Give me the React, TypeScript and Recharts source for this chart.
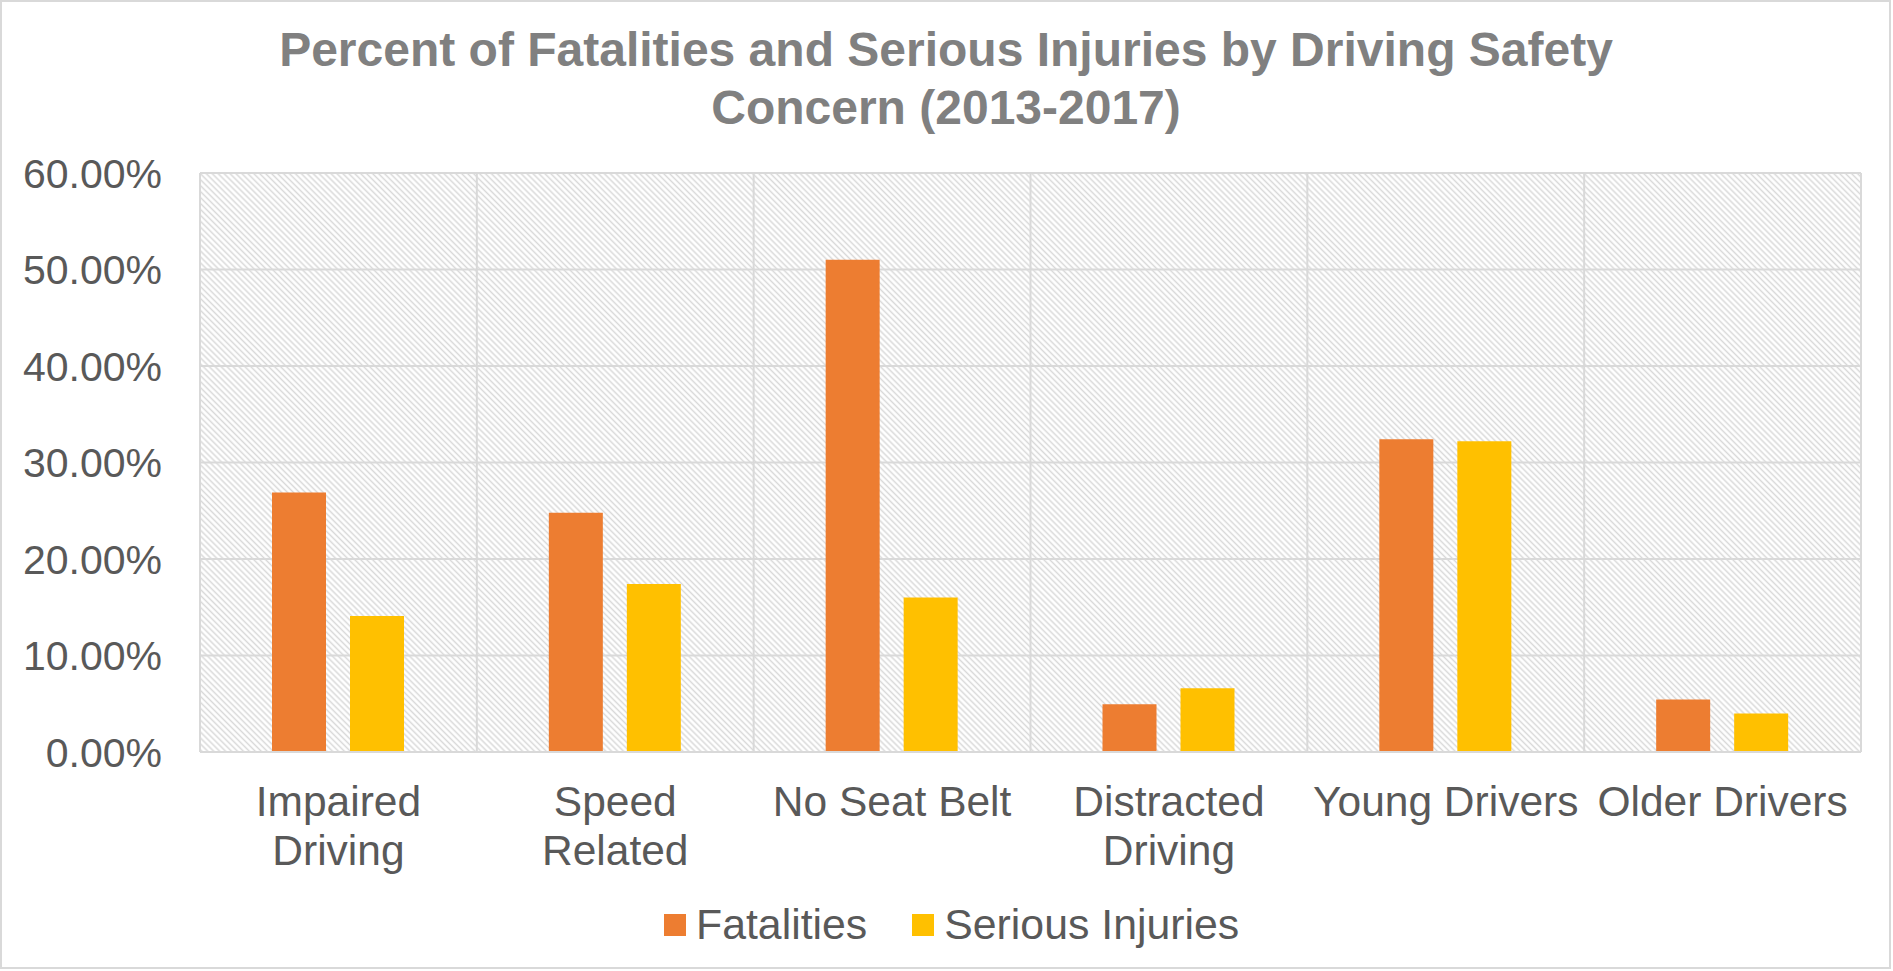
import React from 'react';
import { BarChart, Bar, XAxis, YAxis, CartesianGrid, Legend } from 'recharts';

document.body.style.margin = '0';

const titleLines = ['Percent of Fatalities and Serious Injuries by Driving Safety', 'Concern (2013-2017)'];
const categories = ['Impaired\nDriving', 'Speed\nRelated', 'No Seat Belt', 'Distracted\nDriving', 'Young Drivers', 'Older Drivers'];
const fatalities = [26.9, 24.8, 51.0, 4.95, 32.4, 5.45];
const seriousInjuries = [14.1, 17.4, 16.0, 6.6, 32.2, 4.0];
const yTicks = [0, 10, 20, 30, 40, 50, 60];
const seriesNames = ['Fatalities', 'Serious Injuries'];
const seriesKeys = ['fatalities', 'serious'];
const seriesColors = ['#ED7D31', '#FFC000'];

const data = categories.map((c, i) => ({
  category: c,
  fatalities: fatalities[i],
  serious: seriousInjuries[i],
}));

const FONT = '"Liberation Sans", Arial, sans-serif';
const TEXT = '#595959';
const GRID = '#d9d9d9';

const XTick = (props: any) => {
  const { x, y, payload } = props;
  const lines = String(payload.value).split('\n');
  return (
    <text x={x} y={y} textAnchor="middle" fill={TEXT} fontSize={42.5} fontFamily={FONT}>
      {lines.map((l, i) => (
        <tspan key={i} x={x} dy={i === 0 ? 64 : 48.5}>
          {l}
        </tspan>
      ))}
    </text>
  );
};

const LegendContent = () => (
  <div style={{ display: 'flex', alignItems: 'center', fontFamily: FONT, fontSize: 42.8, color: TEXT, whiteSpace: 'nowrap' }}>
    {seriesNames.map((n, i) => (
      <div key={n} style={{ display: 'flex', alignItems: 'center', marginRight: i === 0 ? 45 : 0 }}>
        <div style={{ width: 22, height: 22, background: seriesColors[i], marginRight: 10 }} />
        <span>{n}</span>
      </div>
    ))}
  </div>
);

export default function App() {
  return (
    <div style={{ position: 'relative', width: 1893, height: 971, background: '#fff', overflow: 'hidden' }}>
      <BarChart
        width={1893}
        height={971}
        data={data}
        margin={{ top: 173, right: 32, bottom: 0, left: 0 }}
        barSize={54}
        barGap={24}
      >
        <defs>
          <pattern id="hatch" patternUnits="userSpaceOnUse" width="4.2" height="4.2" patternTransform="rotate(-45)">
            <rect x="0" y="0" width="4.2" height="4.2" fill="#ffffff" />
            <line x1="2.1" y1="0" x2="2.1" y2="4.2" stroke="#d9d9d9" strokeWidth="1.5" />
          </pattern>
        </defs>
        <CartesianGrid
          fill="url(#hatch)"
          fillOpacity={1}
          stroke={GRID}
          strokeWidth={2}
          verticalCoordinatesGenerator={({ offset }: any) =>
            Array.from({ length: categories.length + 1 }, (_, i) => offset.left + (i * offset.width) / categories.length)
          }
        />
        <XAxis
          dataKey="category"
          height={219}
          interval={0}
          tickLine={false}
          axisLine={{ stroke: GRID, strokeWidth: 2 }}
          tickSize={0}
          tickMargin={0}
          tick={<XTick />}
        />
        <YAxis
          width={200}
          domain={[0, 60]}
          ticks={yTicks}
          interval={0}
          axisLine={false}
          tickLine={false}
          tickSize={0}
          tickMargin={38}
          tickFormatter={(v: number) => `${v.toFixed(2)}%`}
          tick={{ fill: TEXT, fontSize: 41, fontFamily: FONT }}
        />
        {seriesKeys.map((k, i) => (
          <Bar key={k} dataKey={k} name={seriesNames[i]} fill={seriesColors[i]} isAnimationActive={false} />
        ))}
        <Legend
          layout="horizontal"
          verticalAlign="middle"
          align="center"
          wrapperStyle={{ top: 900, left: 664, width: 'auto' }}
          content={<LegendContent />}
        />
      </BarChart>
      <div
        style={{
          position: 'absolute',
          top: 21,
          left: 0,
          width: 1892,
          textAlign: 'center',
          fontFamily: FONT,
          fontWeight: 'bold',
          fontSize: 48,
          lineHeight: '58px',
          color: '#808080',
          whiteSpace: 'nowrap',
        }}
      >
        {titleLines.map((l) => (
          <div key={l}>{l}</div>
        ))}
      </div>
      <div
        style={{
          position: 'absolute',
          top: 0,
          left: 0,
          width: 1891,
          height: 969,
          border: `2px solid ${GRID}`,
          boxSizing: 'border-box',
          pointerEvents: 'none',
        }}
      />
    </div>
  );
}
